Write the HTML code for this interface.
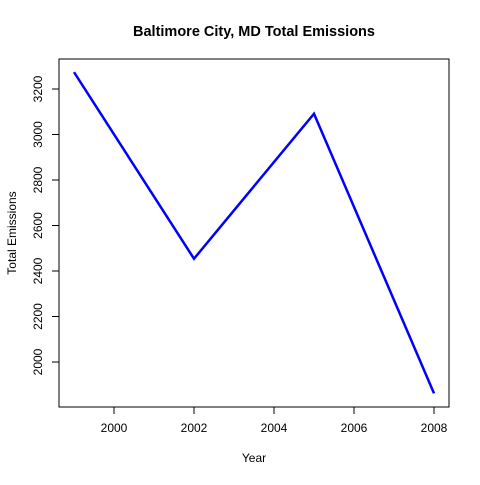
<!DOCTYPE html>
<html><head><meta charset="utf-8"><style>body{margin:0;background:#fff}svg text{font-family:"Liberation Sans",Arial,sans-serif}</style></head>
<body>
<svg id="chart" width="480" height="480" xmlns="http://www.w3.org/2000/svg">
<rect width="480" height="480" fill="#fff"/>
<text x="254" y="36" text-anchor="middle" font-size="14.5" font-weight="bold">Baltimore City, MD Total Emissions</text>
<rect x="59" y="59" width="390" height="348" fill="none" stroke="#000"/>
<text x="254" y="462" text-anchor="middle" font-size="12">Year</text>
<text transform="translate(16,233) rotate(-90)" text-anchor="middle" font-size="12">Total Emissions</text>
<g id="xaxis"></g><g id="yaxis"></g><g id="series"></g>
</svg>
<script>
const years=[1999,2002,2005,2008];
const emissions=[3274.2,2453.9,3091.4,1862.3];
const xTicks=[2000,2002,2004,2006,2008];
const yTicks=[2000,2200,2400,2600,2800,3000,3200];
const NS="http://www.w3.org/2000/svg";
const xs=v=>74+(v-1999)*40;
const ys=v=>362-(v-2000)*(273/1200);
function mk(t,a,p){const e=document.createElementNS(NS,t);for(const k in a)e.setAttribute(k,a[k]);p.appendChild(e);return e;}
const xa=document.getElementById('xaxis'),ya=document.getElementById('yaxis'),se=document.getElementById('series');
mk('line',{x1:xs(xTicks[0]),x2:xs(xTicks[xTicks.length-1]),y1:407,y2:407,stroke:'#000'},xa);
xTicks.forEach(t=>{
 const l=mk('line',{x1:xs(t),x2:xs(t),y1:407,y2:414,stroke:'#000'},xa);
 
 
 const tx=mk('text',{x:xs(t),y:432,'text-anchor':'middle','font-size':12},xa);tx.textContent=t;
 
 
});
mk('line',{x1:59,x2:59,y1:ys(yTicks[0]),y2:ys(yTicks[yTicks.length-1]),stroke:'#000'},ya);
yTicks.forEach(t=>{
 const l=mk('line',{x1:52,x2:59,y1:ys(t),y2:ys(t),stroke:'#000'},ya);
 
 
 const tx=mk('text',{transform:`translate(42,${ys(t)}) rotate(-90)`,'text-anchor':'middle','font-size':12},ya);tx.textContent=t;
 
 
});
const pl=mk('polyline',{points:years.map((y,i)=>xs(y)+','+ys(emissions[i])).join(' '),fill:'none',stroke:'#0000ff','stroke-width':2.5},se);


</script>
</body></html>
